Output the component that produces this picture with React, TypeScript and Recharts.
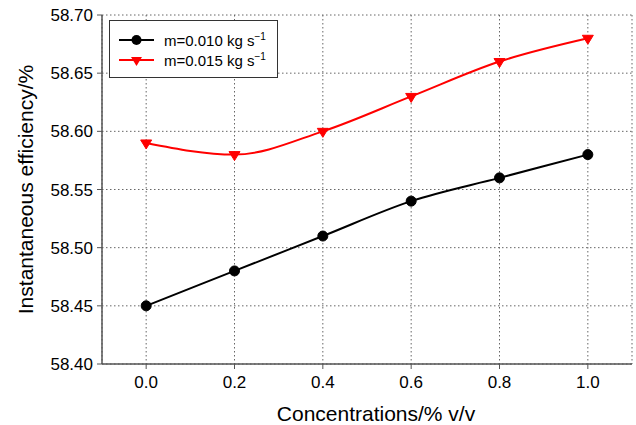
import React from 'react';
import { LineChart, Line, XAxis, YAxis, CartesianGrid } from 'recharts';

const concentrations = [0, 0.2, 0.4, 0.6, 0.8, 1.0];
const m010 = [58.45, 58.48, 58.51, 58.54, 58.56, 58.58];
const m015 = [58.59, 58.58, 58.6, 58.63, 58.66, 58.68];
const xTicks = [0, 0.2, 0.4, 0.6, 0.8, 1.0];
const yTicks = [58.4, 58.45, 58.5, 58.55, 58.6, 58.65, 58.7];
const seriesNames = ['m=0.010 kg s', 'm=0.015 kg s'];

const data = concentrations.map((c, i) => ({ c, a: m010[i], b: m015[i] }));

const FONT = '"Liberation Sans", Arial, Helvetica, sans-serif';

const Triangle = (props: any) => {
  const { cx, cy } = props;
  if (cx == null || cy == null) return null;
  return (
    <path
      d={`M${cx - 5.5},${cy - 3} L${cx + 5.5},${cy - 3} L${cx},${cy + 6} Z`}
      fill="#ff0000"
      stroke="#ff0000"
      strokeWidth={1}
    />
  );
};

const Circle = (props: any) => {
  const { cx, cy } = props;
  if (cx == null || cy == null) return null;
  return <circle cx={cx} cy={cy} r={5} fill="#000" stroke="#000" />;
};

const LegendBox = () => (
  <div
    style={{
      position: 'absolute',
      left: 109,
      top: 20,
      width: 167,
      height: 56,
      border: '1px solid #333',
      background: '#fff',
      fontFamily: FONT,
      fontSize: 15,
      color: '#000',
    }}
  >
    {[0, 1].map((i) => (
      <div
        key={i}
        style={{ position: 'absolute', left: 9, top: 9 + i * 20, height: 20, display: 'flex', alignItems: 'center' }}
      >
        <svg width={36} height={20} style={{ display: 'block' }}>
          <line x1={0} y1={10} x2={35} y2={10} stroke={i === 0 ? '#000' : '#ff0000'} strokeWidth={2} />
          {i === 0 ? (
            <circle cx={17.5} cy={10} r={5} fill="#000" />
          ) : (
            <path d="M12,7 L23,7 L17.5,16 Z" fill="#ff0000" />
          )}
        </svg>
        <span style={{ marginLeft: 9, whiteSpace: 'nowrap' }}>
          {seriesNames[i]}
          <sup style={{ fontSize: 10, verticalAlign: 'super', lineHeight: 0 }}>−1</sup>
        </span>
      </div>
    ))}
  </div>
);

export default function App() {
  return (
    <div style={{ position: 'absolute', left: 0, top: 0, width: 636, height: 425, background: '#fff' }}>
      <LineChart
        width={636}
        height={425}
        data={data}
        margin={{ top: 15, right: 4, bottom: 0, left: 0 }}
        style={{ fontFamily: FONT }}
      >
        <CartesianGrid stroke="#666" strokeDasharray="1.5 2.5" horizontal vertical />
        <XAxis
          dataKey="c"
          type="number"
          domain={[-0.1, 1.1]}
          ticks={xTicks}
          tickFormatter={(v: number) => v.toFixed(1)}
          height={61}
          tickSize={5}
          tickMargin={7}
          axisLine={{ stroke: '#555', strokeWidth: 1.5 }}
          tickLine={{ stroke: '#555' }}
          tick={{ fill: '#000', fontSize: 17, fontFamily: FONT }}
          allowDataOverflow
          label={{
            value: 'Concentrations/% v/v',
            content: (p: any) => {
              const vb = p.viewBox || {};
              return (
                <text
                  x={vb.x + vb.width / 2 + 9}
                  y={421}
                  textAnchor="middle"
                  fontSize={21}
                  fontFamily={FONT}
                  fill="#000"
                >
                  Concentrations/% v/v
                </text>
              );
            },
          }}
        />
        <XAxis
          xAxisId="top"
          orientation="top"
          dataKey="c"
          type="number"
          domain={[-0.1, 1.1]}
          ticks={xTicks}
          height={0}
          tick={false}
          tickLine={false}
          axisLine={{ stroke: '#555', strokeWidth: 1 }}
        />
        <YAxis
          type="number"
          domain={[58.4, 58.7]}
          ticks={yTicks}
          tickFormatter={(v: number) => v.toFixed(2)}
          width={102}
          tickSize={5}
          tickMargin={4}
          axisLine={{ stroke: '#555', strokeWidth: 1.5 }}
          tickLine={{ stroke: '#555' }}
          tick={{ fill: '#000', fontSize: 17, fontFamily: FONT }}
          allowDataOverflow
          label={{
            value: 'Instantaneous efficiency/%',
            content: () => (
              <text
                x={25}
                y={189.5}
                dy="0.36em"
                transform="rotate(-90, 25, 189.5)"
                textAnchor="middle"
                fontSize={21}
                fontFamily={FONT}
                fill="#000"
              >
                Instantaneous efficiency/%
              </text>
            ),
          }}
        />
        <YAxis
          yAxisId="right"
          orientation="right"
          type="number"
          domain={[58.4, 58.7]}
          width={0}
          tick={false}
          tickLine={false}
          axisLine={{ stroke: '#333', strokeWidth: 1 }}
        />
        <Line
          type="monotone"
          dataKey="a"
          stroke="#000"
          strokeWidth={2}
          dot={<Circle />}
          activeDot={false}
          isAnimationActive={false}
        />
        <Line
          type="monotone"
          dataKey="b"
          stroke="#ff0000"
          strokeWidth={2}
          dot={<Triangle />}
          activeDot={false}
          isAnimationActive={false}
        />
      </LineChart>
      <LegendBox />
    </div>
  );
}
